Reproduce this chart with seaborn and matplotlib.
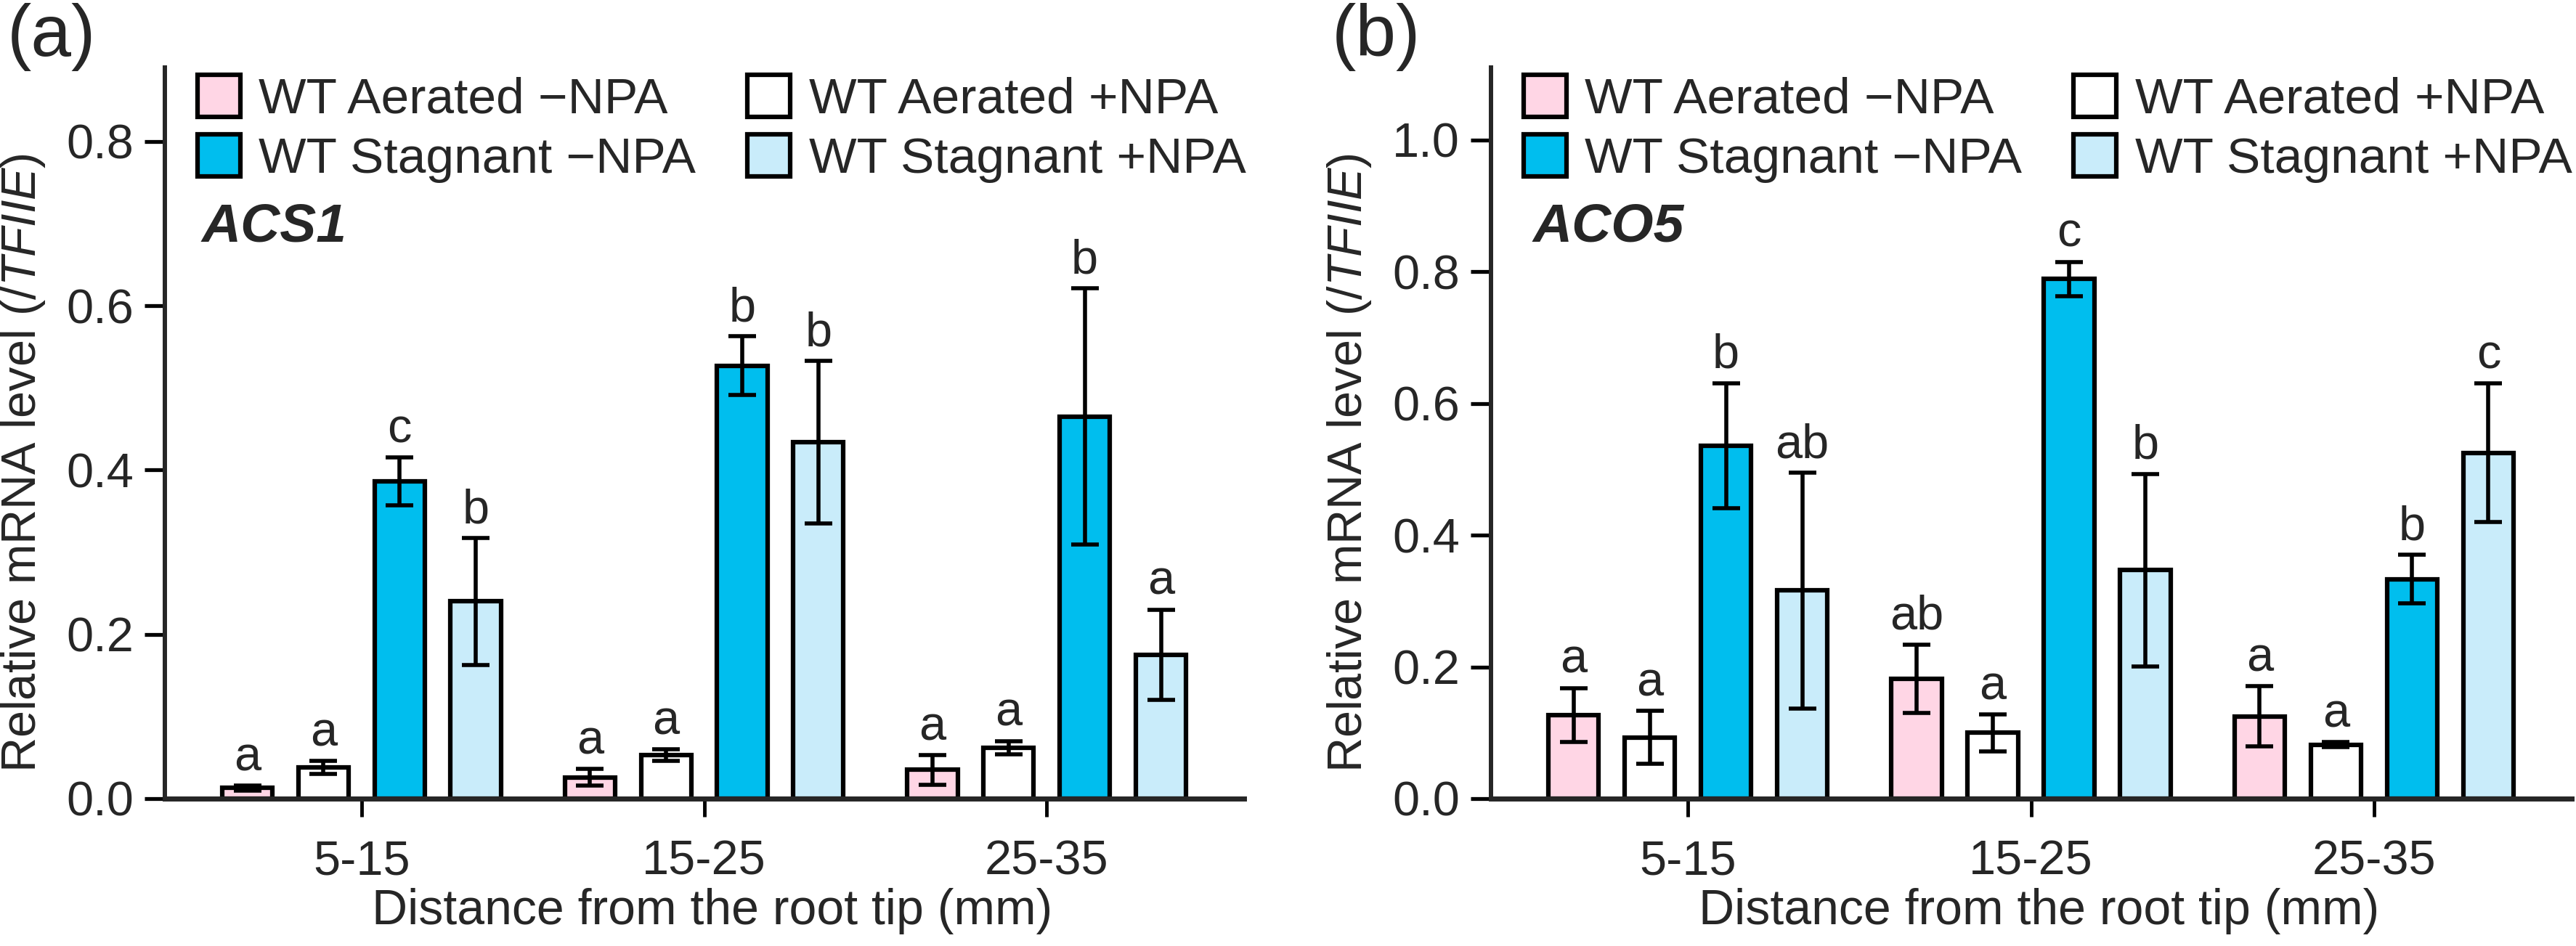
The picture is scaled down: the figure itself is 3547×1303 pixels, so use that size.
import numpy as np
import pandas as pd
import matplotlib
matplotlib.use("Agg")
import matplotlib.pyplot as plt
import seaborn as sns

# ---------------- data ----------------
zones = ["5-15", "15-25", "25-35"]
treatments = ["WT Aerated \u2212NPA", "WT Aerated +NPA",
              "WT Stagnant \u2212NPA", "WT Stagnant +NPA"]
colors = ["#FFD6E5", "#FFFFFF", "#00BEEE", "#C9ECFA"]

# ACS1 (panel a) — values per zone
acs1_aer_minus = [0.013, 0.026, 0.035]
acs1_aer_plus = [0.038, 0.053, 0.062]
acs1_stag_minus = [0.386, 0.527, 0.465]
acs1_stag_plus = [0.240, 0.434, 0.175]
acs1_err_aer_minus = [0.003, 0.010, 0.018]
acs1_err_aer_plus = [0.008, 0.007, 0.008]
acs1_err_stag_minus = [0.029, 0.036, 0.156]
acs1_err_stag_plus = [0.077, 0.099, 0.055]
acs1_let_aer_minus = ["a", "a", "a"]
acs1_let_aer_plus = ["a", "a", "a"]
acs1_let_stag_minus = ["c", "b", "b"]
acs1_let_stag_plus = ["b", "b", "a"]

# ACO5 (panel b)
aco5_aer_minus = [0.127, 0.182, 0.125]
aco5_aer_plus = [0.093, 0.100, 0.082]
aco5_stag_minus = [0.536, 0.789, 0.333]
aco5_stag_plus = [0.316, 0.347, 0.525]
aco5_err_aer_minus = [0.041, 0.052, 0.046]
aco5_err_aer_plus = [0.040, 0.028, 0.004]
aco5_err_stag_minus = [0.095, 0.026, 0.037]
aco5_err_stag_plus = [0.179, 0.146, 0.105]
aco5_let_aer_minus = ["a", "ab", "a"]
aco5_let_aer_plus = ["a", "a", "a"]
aco5_let_stag_minus = ["b", "c", "b"]
aco5_let_stag_plus = ["ab", "b", "c"]

def make_df(vals, errs, lets):
    rows = []
    for t, v, e, l in zip(treatments, vals, errs, lets):
        for z, vv, ee, ll in zip(zones, v, e, l):
            rows.append({"zone": z, "treatment": t, "value": vv, "err": ee, "letter": ll})
    return pd.DataFrame(rows)

df_a = make_df([acs1_aer_minus, acs1_aer_plus, acs1_stag_minus, acs1_stag_plus],
               [acs1_err_aer_minus, acs1_err_aer_plus, acs1_err_stag_minus, acs1_err_stag_plus],
               [acs1_let_aer_minus, acs1_let_aer_plus, acs1_let_stag_minus, acs1_let_stag_plus])
df_b = make_df([aco5_aer_minus, aco5_aer_plus, aco5_stag_minus, aco5_stag_plus],
               [aco5_err_aer_minus, aco5_err_aer_plus, aco5_err_stag_minus, aco5_err_stag_plus],
               [aco5_let_aer_minus, aco5_let_aer_plus, aco5_let_stag_minus, aco5_let_stag_plus])

# ---------------- style ----------------
sns.set_style("ticks")
plt.rcParams["font.family"] = ["Liberation Sans", "DejaVu Sans"]
plt.rcParams["mathtext.fontset"] = "custom"
plt.rcParams["mathtext.rm"] = "Liberation Sans"
plt.rcParams["mathtext.it"] = "Liberation Sans:italic"

W, H = 3548, 1303
fig = plt.figure(figsize=(W / 100, H / 100), dpi=100)

def px_axes(x0, x1, y_top, y_bot):
    return fig.add_axes([x0 / W, 1 - y_bot / H, (x1 - x0) / W, (y_bot - y_top) / H])

ax_a = px_axes(227, 1713, 93, 1100)
ax_b = px_axes(2053, 3541, 93, 1100)

FS = 48

def draw(ax, df, ymax, ytop_tick, gene, gene_x):
    sns.barplot(data=df, x="zone", y="value", hue="treatment", order=zones,
                hue_order=treatments, palette=colors, saturation=1,
                width=0.889, gap=0.34, edgecolor="black", linewidth=4.5,
                errorbar=None, legend=False, ax=ax, zorder=2)
    for cont, trt in zip(ax.containers, treatments):
        for bar, z in zip(cont, zones):
            row = df[(df.treatment == trt) & (df.zone == z)].iloc[0]
            x = bar.get_x() + bar.get_width() / 2
            h = bar.get_height()
            ax.errorbar(x, h, yerr=row.err, fmt="none", ecolor="black",
                        elinewidth=4, capsize=14, capthick=4, zorder=3)
            ax.annotate(row.letter, (x, h + row.err), xytext=(0, 15),
                        textcoords="offset points", ha="center", va="baseline",
                        fontsize=FS)
    ax.set_xlim(-0.574, 2.576)
    ax.set_ylim(0, ymax)
    ax.set_yticks(np.round(np.arange(0, ytop_tick + 0.001, 0.2), 1))
    ax.yaxis.set_major_formatter(matplotlib.ticker.FormatStrFormatter("%.1f"))
    sns.despine(ax=ax)
    ax.spines["left"].set_linewidth(4.3)
    ax.spines["bottom"].set_linewidth(5)
    ax.spines["bottom"].set_zorder(4)
    ax.tick_params(axis="y", length=20, width=3.8, labelsize=FS, pad=11, color="black")
    ax.tick_params(axis="x", length=18, width=3.5, labelsize=FS, pad=23, color="black")
    ax.set_xlabel("Distance from the root tip (mm)", fontsize=49)
    ax.set_ylabel(r"Relative mRNA level ($\mathit{/TFIIE}$)", fontsize=FS)
    ax.xaxis.set_label_coords(0.507, -0.122)
    ax.yaxis.set_label_coords(-0.109, 0.459)
    conts = list(ax.containers)
    handles = [conts[0], conts[2], conts[1], conts[3]]
    labels = [treatments[0], treatments[2], treatments[1], treatments[3]]
    ax.legend(handles=handles, labels=labels, ncol=2, loc="upper left",
              bbox_to_anchor=(0.030, 0.990), frameon=False, fontsize=50,
              handlelength=0.85, handleheight=0.9, handletextpad=0.37,
              columnspacing=1.02, labelspacing=0.22, borderpad=0, borderaxespad=0)
    ax.text(gene_x, 0.782, gene, transform=ax.transAxes, fontsize=54,
            fontweight="bold", fontstyle="italic", va="center", ha="left")

draw(ax_a, df_a, 0.89, 0.8, "ACS1", 0.034)
draw(ax_b, df_b, 1.11, 1.0, "ACO5", 0.039)

fig.text(10 / W, 1 - 4 / H, "(a)", fontsize=72, va="top", ha="left")
fig.text(1834 / W, 1 - 4 / H, "(b)", fontsize=72, va="top", ha="left")

fig.savefig("out.png", dpi=100, facecolor="white")
